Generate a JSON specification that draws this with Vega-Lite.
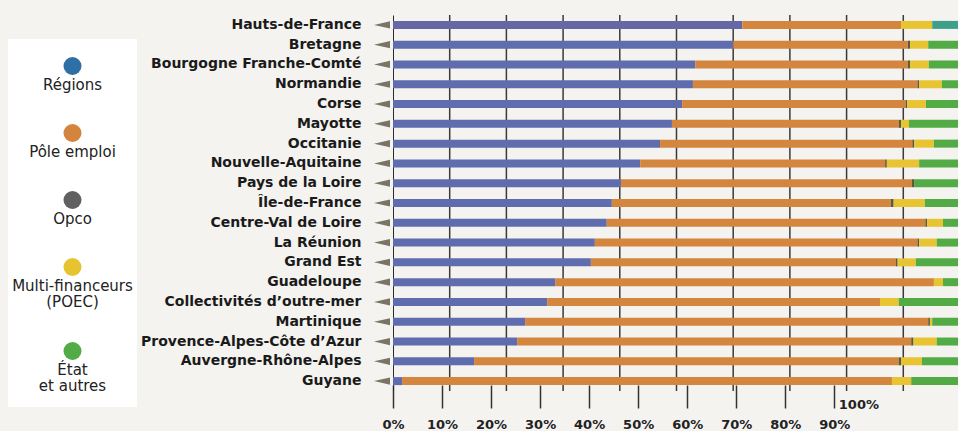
{
  "$schema": "https://vega.github.io/schema/vega-lite/v6.json",
  "background": "#f4f3f0",
  "padding": {"left": 8, "top": 14, "right": 0, "bottom": 0},
  "config": {"view": {"stroke": null}, "font": "DejaVu Sans"},
  "datasets": {
    "parts": [
      {"region": "Hauts-de-France", "financeur": "Régions", "part": 61.6},
      {"region": "Hauts-de-France", "financeur": "Pôle emploi", "part": 28.0},
      {"region": "Hauts-de-France", "financeur": "Multi-financeurs (POEC)", "part": 5.5},
      {"region": "Hauts-de-France", "financeur": "État et autres", "part": 4.9},
      {"region": "Bretagne", "financeur": "Régions", "part": 60.0},
      {"region": "Bretagne", "financeur": "Pôle emploi", "part": 30.8},
      {"region": "Bretagne", "financeur": "Opco", "part": 0.4},
      {"region": "Bretagne", "financeur": "Multi-financeurs (POEC)", "part": 3.2},
      {"region": "Bretagne", "financeur": "État et autres", "part": 5.6},
      {"region": "Bourgogne Franche-Comté", "financeur": "Régions", "part": 53.3},
      {"region": "Bourgogne Franche-Comté", "financeur": "Pôle emploi", "part": 37.5},
      {"region": "Bourgogne Franche-Comté", "financeur": "Opco", "part": 0.4},
      {"region": "Bourgogne Franche-Comté", "financeur": "Multi-financeurs (POEC)", "part": 3.3},
      {"region": "Bourgogne Franche-Comté", "financeur": "État et autres", "part": 5.5},
      {"region": "Normandie", "financeur": "Régions", "part": 52.9},
      {"region": "Normandie", "financeur": "Pôle emploi", "part": 39.6},
      {"region": "Normandie", "financeur": "Opco", "part": 0.3},
      {"region": "Normandie", "financeur": "Multi-financeurs (POEC)", "part": 4.0},
      {"region": "Normandie", "financeur": "État et autres", "part": 3.2},
      {"region": "Corse", "financeur": "Régions", "part": 51.0},
      {"region": "Corse", "financeur": "Pôle emploi", "part": 39.4},
      {"region": "Corse", "financeur": "Opco", "part": 0.3},
      {"region": "Corse", "financeur": "Multi-financeurs (POEC)", "part": 3.3},
      {"region": "Corse", "financeur": "État et autres", "part": 6.0},
      {"region": "Mayotte", "financeur": "Régions", "part": 49.2},
      {"region": "Mayotte", "financeur": "Pôle emploi", "part": 40.0},
      {"region": "Mayotte", "financeur": "Opco", "part": 0.4},
      {"region": "Mayotte", "financeur": "Multi-financeurs (POEC)", "part": 1.4},
      {"region": "Mayotte", "financeur": "État et autres", "part": 9.0},
      {"region": "Occitanie", "financeur": "Régions", "part": 47.1},
      {"region": "Occitanie", "financeur": "Pôle emploi", "part": 44.5},
      {"region": "Occitanie", "financeur": "Opco", "part": 0.3},
      {"region": "Occitanie", "financeur": "Multi-financeurs (POEC)", "part": 3.5},
      {"region": "Occitanie", "financeur": "État et autres", "part": 4.6},
      {"region": "Nouvelle-Aquitaine", "financeur": "Régions", "part": 43.6},
      {"region": "Nouvelle-Aquitaine", "financeur": "Pôle emploi", "part": 43.2},
      {"region": "Nouvelle-Aquitaine", "financeur": "Opco", "part": 0.3},
      {"region": "Nouvelle-Aquitaine", "financeur": "Multi-financeurs (POEC)", "part": 5.7},
      {"region": "Nouvelle-Aquitaine", "financeur": "État et autres", "part": 7.2},
      {"region": "Pays de la Loire", "financeur": "Régions", "part": 40.2},
      {"region": "Pays de la Loire", "financeur": "Pôle emploi", "part": 51.3},
      {"region": "Pays de la Loire", "financeur": "Opco", "part": 0.4},
      {"region": "Pays de la Loire", "financeur": "État et autres", "part": 8.1},
      {"region": "Île-de-France", "financeur": "Régions", "part": 38.6},
      {"region": "Île-de-France", "financeur": "Pôle emploi", "part": 49.2},
      {"region": "Île-de-France", "financeur": "Opco", "part": 0.5},
      {"region": "Île-de-France", "financeur": "Multi-financeurs (POEC)", "part": 5.5},
      {"region": "Île-de-France", "financeur": "État et autres", "part": 6.2},
      {"region": "Centre-Val de Loire", "financeur": "Régions", "part": 37.7},
      {"region": "Centre-Val de Loire", "financeur": "Pôle emploi", "part": 56.2},
      {"region": "Centre-Val de Loire", "financeur": "Opco", "part": 0.3},
      {"region": "Centre-Val de Loire", "financeur": "Multi-financeurs (POEC)", "part": 2.8},
      {"region": "Centre-Val de Loire", "financeur": "État et autres", "part": 3.0},
      {"region": "La Réunion", "financeur": "Régions", "part": 35.6},
      {"region": "La Réunion", "financeur": "Pôle emploi", "part": 56.9},
      {"region": "La Réunion", "financeur": "Opco", "part": 0.3},
      {"region": "La Réunion", "financeur": "Multi-financeurs (POEC)", "part": 3.1},
      {"region": "La Réunion", "financeur": "État et autres", "part": 4.1},
      {"region": "Grand Est", "financeur": "Régions", "part": 34.9},
      {"region": "Grand Est", "financeur": "Pôle emploi", "part": 53.8},
      {"region": "Grand Est", "financeur": "Opco", "part": 0.3},
      {"region": "Grand Est", "financeur": "Multi-financeurs (POEC)", "part": 3.2},
      {"region": "Grand Est", "financeur": "État et autres", "part": 7.8},
      {"region": "Guadeloupe", "financeur": "Régions", "part": 28.6},
      {"region": "Guadeloupe", "financeur": "Pôle emploi", "part": 66.8},
      {"region": "Guadeloupe", "financeur": "Multi-financeurs (POEC)", "part": 1.6},
      {"region": "Guadeloupe", "financeur": "État et autres", "part": 3.0},
      {"region": "Collectivités d’outre-mer", "financeur": "Régions", "part": 27.2},
      {"region": "Collectivités d’outre-mer", "financeur": "Pôle emploi", "part": 58.7},
      {"region": "Collectivités d’outre-mer", "financeur": "Multi-financeurs (POEC)", "part": 3.3},
      {"region": "Collectivités d’outre-mer", "financeur": "État et autres", "part": 10.8},
      {"region": "Martinique", "financeur": "Régions", "part": 23.3},
      {"region": "Martinique", "financeur": "Pôle emploi", "part": 71.1},
      {"region": "Martinique", "financeur": "Opco", "part": 0.3},
      {"region": "Martinique", "financeur": "Multi-financeurs (POEC)", "part": 0.4},
      {"region": "Martinique", "financeur": "État et autres", "part": 4.9},
      {"region": "Provence-Alpes-Côte d’Azur", "financeur": "Régions", "part": 21.9},
      {"region": "Provence-Alpes-Côte d’Azur", "financeur": "Pôle emploi", "part": 69.5},
      {"region": "Provence-Alpes-Côte d’Azur", "financeur": "Opco", "part": 0.4},
      {"region": "Provence-Alpes-Côte d’Azur", "financeur": "Multi-financeurs (POEC)", "part": 4.1},
      {"region": "Provence-Alpes-Côte d’Azur", "financeur": "État et autres", "part": 4.1},
      {"region": "Auvergne-Rhône-Alpes", "financeur": "Régions", "part": 14.3},
      {"region": "Auvergne-Rhône-Alpes", "financeur": "Pôle emploi", "part": 74.9},
      {"region": "Auvergne-Rhône-Alpes", "financeur": "Opco", "part": 0.4},
      {"region": "Auvergne-Rhône-Alpes", "financeur": "Multi-financeurs (POEC)", "part": 3.7},
      {"region": "Auvergne-Rhône-Alpes", "financeur": "État et autres", "part": 6.7},
      {"region": "Guyane", "financeur": "Régions", "part": 1.6},
      {"region": "Guyane", "financeur": "Pôle emploi", "part": 86.4},
      {"region": "Guyane", "financeur": "Multi-financeurs (POEC)", "part": 3.4},
      {"region": "Guyane", "financeur": "État et autres", "part": 8.6}
    ],
    "legende": [
      {"nom": "Régions", "etiquette": "Régions"},
      {"nom": "Pôle emploi", "etiquette": "Pôle emploi"},
      {"nom": "Opco", "etiquette": "Opco"},
      {"nom": "Multi-financeurs (POEC)", "etiquette": "Multi-financeurs\n(POEC)"},
      {"nom": "État et autres", "etiquette": "État\net autres"}
    ],
    "grille": [{"g": 10}, {"g": 20}, {"g": 30}, {"g": 40}, {"g": 50}, {"g": 60}, {"g": 70}, {"g": 80}, {"g": 90}],
    "graduations": [{"t": 0}, {"t": 100}]
  },
  "resolve": {"scale": {"color": "independent"}},
  "spacing": 0,
  "center": true,
  "hconcat": [
    {
      "width": 129,
      "height": 368,
      "view": {"fill": "white", "stroke": null},
      "data": {"name": "legende"},
      "encoding": {
        "y": {"field": "nom", "type": "nominal", "axis": null,
          "scale": {"type": "point", "padding": 0, "domain": ["Régions", "Pôle emploi", "Opco", "Multi-financeurs (POEC)", "État et autres"], "range": [27, 295]}}
      },
      "layer": [
        {
          "transform": [{"filter": "datum.nom !== 'État et autres'"}],
          "mark": {"type": "point", "filled": true, "size": 324, "opacity": 1},
          "encoding": {
            "color": {"field": "nom", "type": "nominal", "legend": null,
              "scale": {"domain": ["Régions", "Pôle emploi", "Opco", "Multi-financeurs (POEC)", "État et autres"], "range": ["#2e70a5", "#d4843c", "#606060", "#e8c330", "#52ab45"]}}
          }
        },
        {
          "transform": [{"filter": "datum.nom === 'État et autres'"}],
          "mark": {"type": "point", "filled": true, "size": 324, "opacity": 1, "yOffset": 17},
          "encoding": {
            "color": {"field": "nom", "type": "nominal", "legend": null}
          }
        },
        {
          "transform": [{"filter": "datum.nom !== 'État et autres'"}],
          "mark": {"type": "text", "baseline": "top", "align": "center", "dy": 12, "fontSize": 15, "lineHeight": 15.5, "lineBreak": "\n", "color": "#222222", "font": "DejaVu Sans"},
          "encoding": {
            "text": {"field": "etiquette", "type": "nominal"}
          }
        },
        {
          "transform": [{"filter": "datum.nom === 'État et autres'"}],
          "mark": {"type": "text", "baseline": "top", "align": "center", "dy": 12, "yOffset": 17, "fontSize": 15, "lineHeight": 15.5, "lineBreak": "\n", "color": "#222222", "font": "DejaVu Sans"},
          "encoding": {
            "text": {"field": "etiquette", "type": "nominal"}
          }
        }
      ]
    },
    {
      "width": 565,
      "height": 376,
      "resolve": {"scale": {"x": "independent"}},
      "layer": [
        {
          "data": {"name": "grille"},
          "mark": {"type": "rule", "color": "#3a3a3a", "strokeWidth": 1.5},
          "encoding": {
            "x": {"field": "g", "type": "quantitative", "axis": null, "scale": {"domain": [0, 99.65], "nice": false}}
          }
        },
        {
          "data": {"name": "parts"},
          "transform": [
            {"calculate": "indexof(['Régions', 'Pôle emploi', 'Opco', 'Multi-financeurs (POEC)', 'État et autres'], datum.financeur)", "as": "rang"}
          ],
          "mark": {"type": "bar", "size": 8},
          "encoding": {
            "y": {"field": "region", "type": "nominal", "sort": null,
              "scale": {"paddingInner": 0, "paddingOuter": 0},
              "axis": {"title": null, "domain": true, "domainColor": "#2a2a2a", "domainWidth": 1, "ticks": false, "grid": false,
                "labelPadding": 32, "labelFont": "DejaVu Sans", "labelFontSize": 14, "labelFontWeight": "bold", "labelColor": "#1a1a1a",
                "minExtent": 256, "maxExtent": 256, "labelLimit": 260}},
            "x": {"field": "part", "type": "quantitative", "stack": "zero", "axis": null, "scale": {"domain": [0, 99.65], "nice": false}},
            "color": {
              "condition": [
                {"test": "datum.region === 'Hauts-de-France' && datum.financeur === 'État et autres'", "value": "#3fa08a"},
                {"test": "datum.region === 'Hauts-de-France' && datum.financeur === 'Régions'", "value": "#6668a6"}
              ],
              "field": "financeur", "type": "nominal", "legend": null,
              "scale": {"domain": ["Régions", "Pôle emploi", "Opco", "Multi-financeurs (POEC)", "État et autres"], "range": ["#5f6daf", "#d4853e", "#5c5a3c", "#e8c332", "#53ab45"]}
            },
            "order": {"field": "rang", "type": "quantitative"}
          }
        },
        {
          "data": {"name": "parts"},
          "transform": [{"filter": "datum.financeur === 'Régions'"}],
          "mark": {"type": "point", "shape": "M -1 0 L 1 -0.45 L 1 0.45 Z", "filled": true, "size": 256, "color": "#7a7466", "opacity": 1, "xOffset": -11},
          "encoding": {
            "y": {"field": "region", "type": "nominal", "sort": null},
            "x": {"datum": 0, "type": "quantitative", "axis": null, "scale": {"domain": [0, 99.65], "nice": false}}
          }
        },
        {
          "data": {"name": "graduations"},
          "mark": {"type": "point", "opacity": 0},
          "encoding": {
            "x": {"field": "t", "type": "quantitative",
              "scale": {"domain": [0, 115.23], "nice": false, "zero": false},
              "axis": {"orient": "bottom", "title": null, "values": [0, 10, 20, 30, 40, 50, 60, 70, 80, 90, 100],
                "labelExpr": "datum.value + '%'", "domain": false, "grid": false, "ticks": true,
                "tickSize": 23, "tickColor": "#333333", "tickWidth": 1.5, "offset": -6,
                "labelFont": "DejaVu Sans", "labelFontSize": 13, "labelFontWeight": "bold", "labelColor": "#222222",
                "labelFlush": false, "labelOverlap": false, "labelBound": false,
                "labelAlign": {"condition": {"test": "datum.value === 100", "value": "left"}, "value": "center"},
                "labelOffset": {"condition": {"test": "datum.value === 100", "value": -45}, "value": 0},
                "labelPadding": {"condition": {"test": "datum.value === 100", "value": -10}, "value": 10},
                "tickOpacity": {"condition": {"test": "datum.value === 100", "value": 0}, "value": 1}}
            }
          }
        }
      ]
    }
  ]
}
